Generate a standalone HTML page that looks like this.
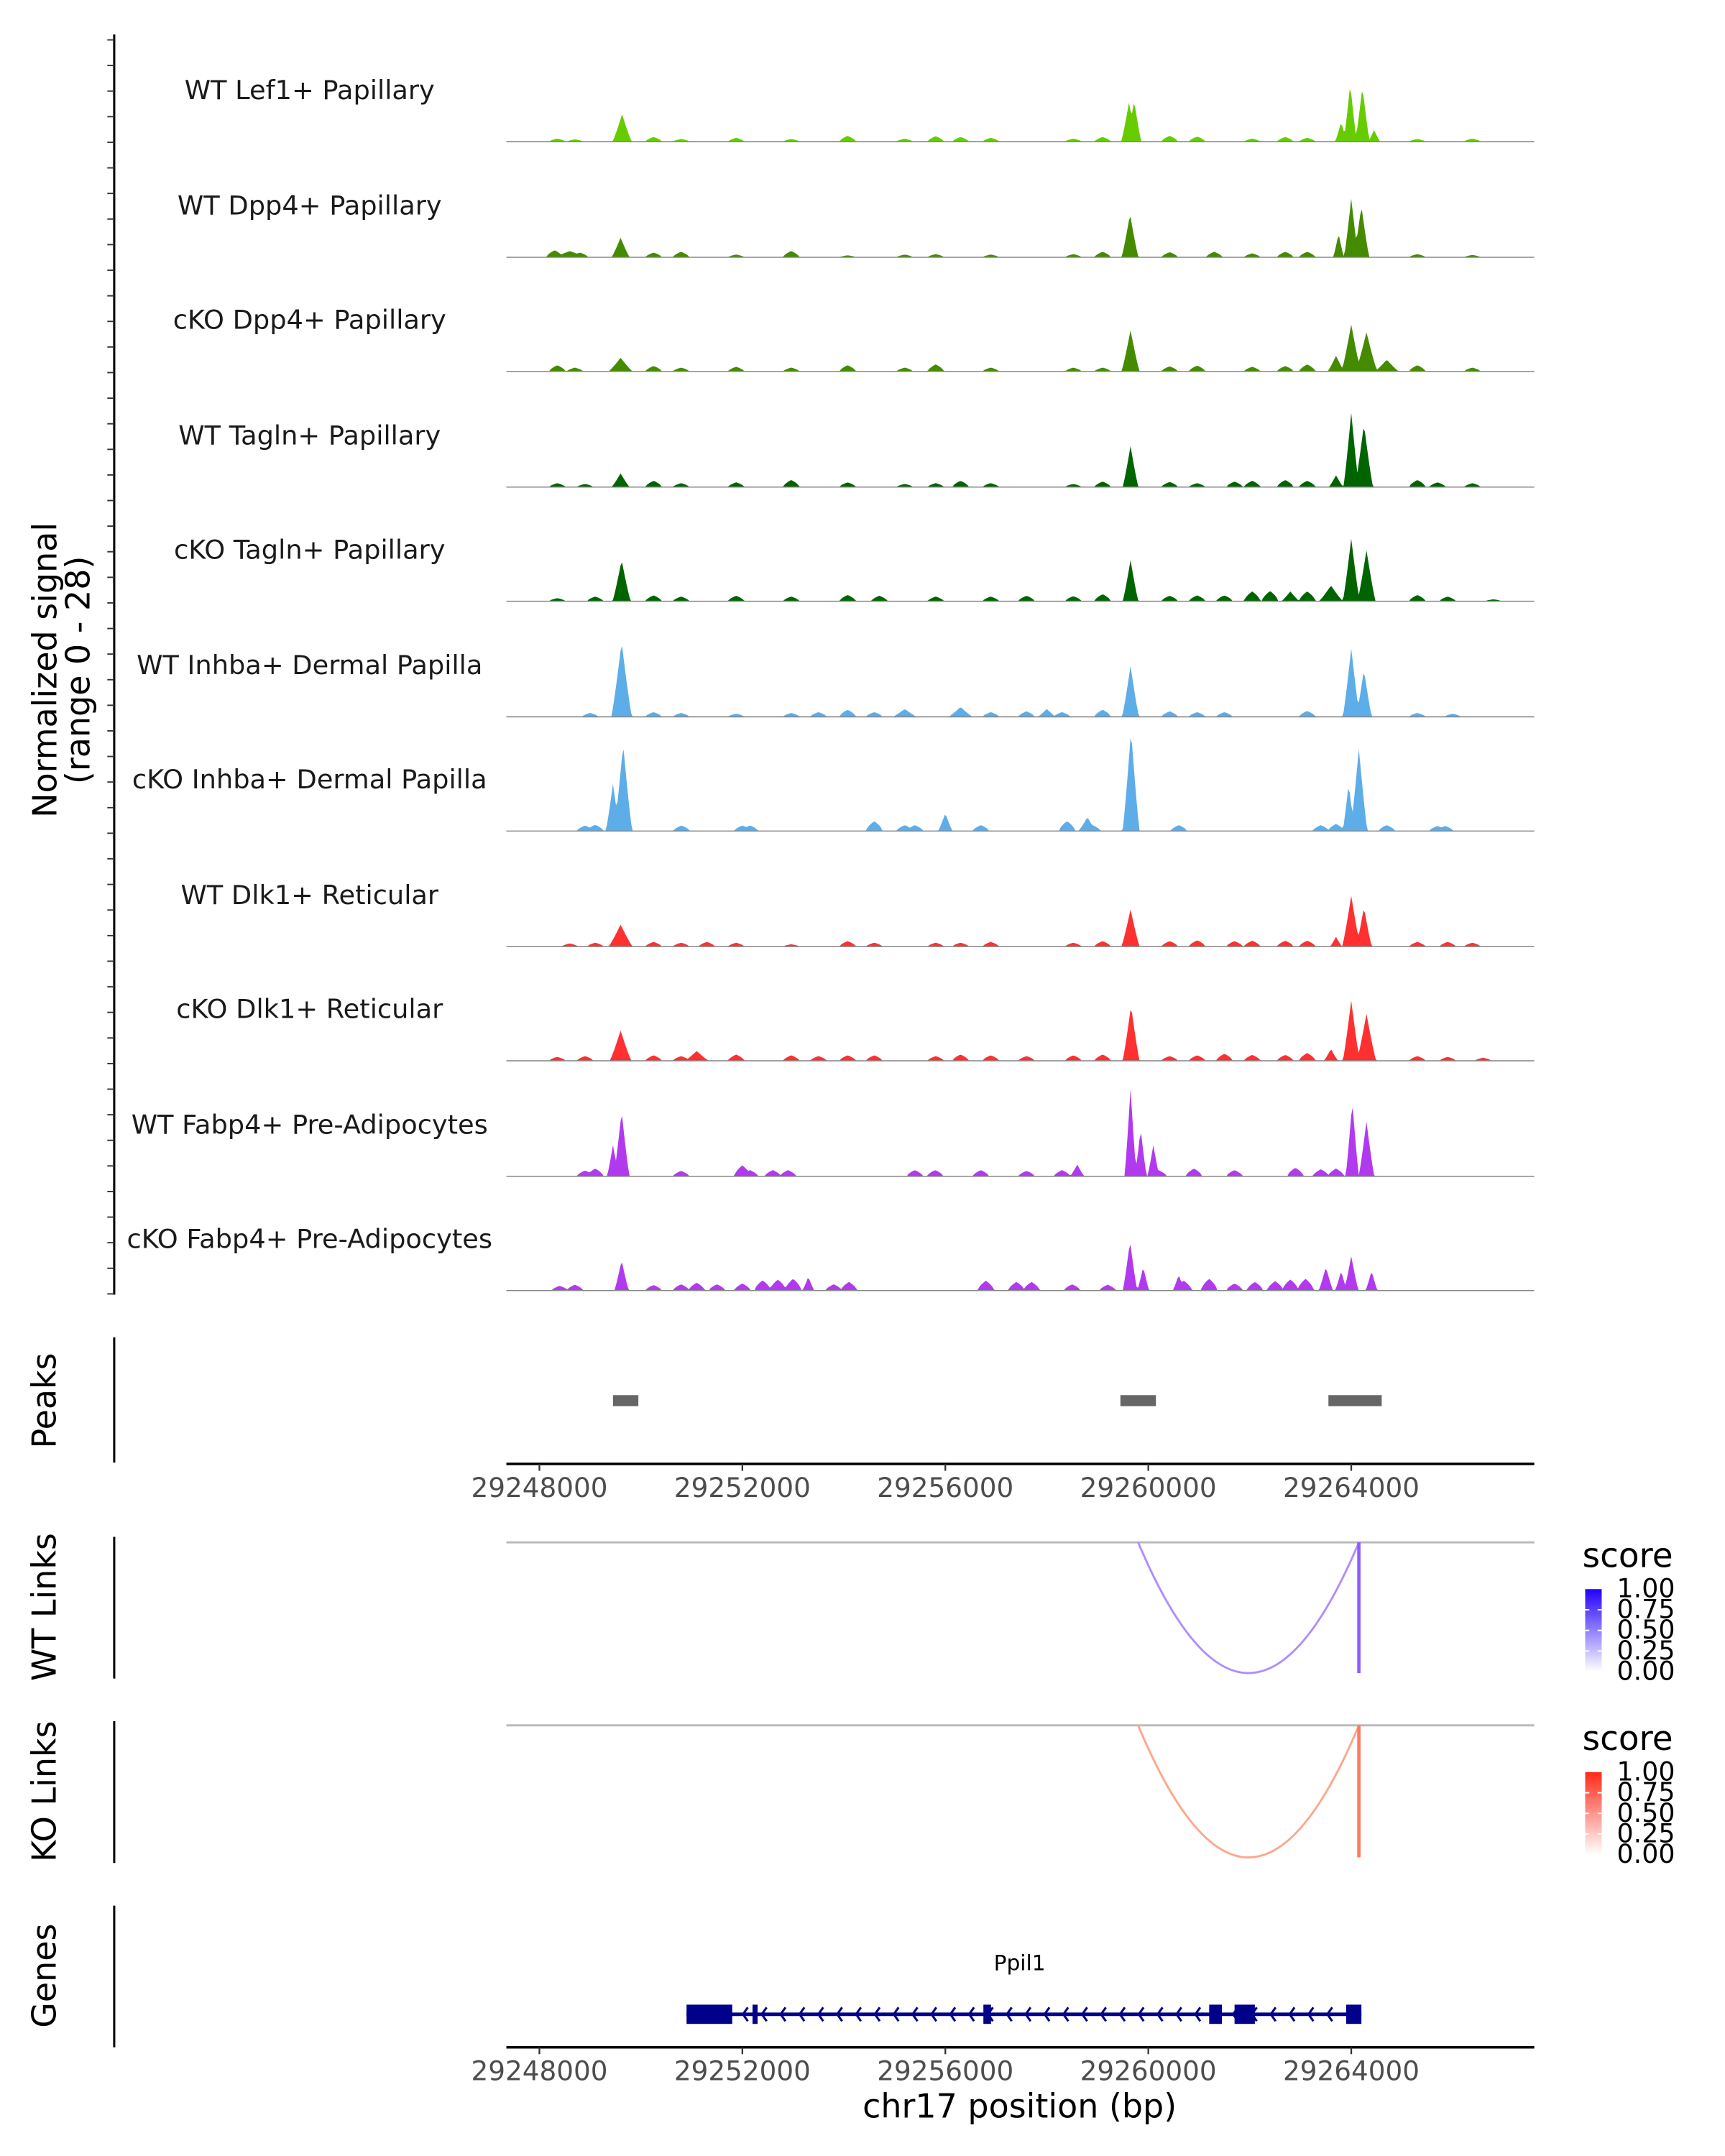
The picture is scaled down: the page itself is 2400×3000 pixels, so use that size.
<!DOCTYPE html>
<html><head><meta charset="utf-8">
<style>
html,body{margin:0;padding:0;background:#fff;}
svg{display:block;font-family:"DejaVu Sans","Liberation Sans",sans-serif;}
</style></head>
<body>
<svg id="chart" width="2400" height="3000" viewBox="0 0 1253.6 1567" preserveAspectRatio="none" xmlns="http://www.w3.org/2000/svg">
<rect width="1260" height="1570" fill="#fff"/>
<g id="signal"></g>
<g id="peaks"></g>
<g id="links"></g>
<g id="genes"></g>
<g id="axes"></g>
</svg>
<script>
const NS="http://www.w3.org/2000/svg";
// ---- data ----
const trackLabels=["WT Lef1+ Papillary","WT Dpp4+ Papillary","cKO Dpp4+ Papillary","WT Tagln+ Papillary","cKO Tagln+ Papillary","WT Inhba+ Dermal Papilla","cKO Inhba+ Dermal Papilla","WT Dlk1+ Reticular","cKO Dlk1+ Reticular","WT Fabp4+ Pre-Adipocytes","cKO Fabp4+ Pre-Adipocytes"];
const trackColors=["#66cc00","#458b00","#458b00","#006400","#006400","#5dade9","#5dade9","#ff3030","#ff3030","#b23aee","#b23aee"];
// main peaks: [bp, height(0-28), halfWidthBp]
const mainPeaks=[
 [[29249630,7,160],[29259620,10,130],[29259720,10.5,120],[29263980,14.7,110],[29264220,14,120],[29263800,5,100],[29264450,3,100]],
 [[29249600,5,150],[29259640,11,140],[29264000,15,120],[29264200,13,130],[29263750,6,90],[29248600,1.6,300]],
 [[29249600,3.5,200],[29259650,10.5,150],[29264000,12,160],[29264300,10,180],[29263700,4,140],[29264700,3,200]],
 [[29249600,3.5,150],[29259650,10.5,130],[29264000,19,130],[29264250,16,150],[29263700,3,120]],
 [[29249620,10.5,150],[29259650,10.5,130],[29264000,16,140],[29264300,13,150],[29263600,4,200],[29262800,2.5,150]],
 [[29249620,19,170],[29259650,13,140],[29264000,17.5,140],[29264250,12,130],[29256300,2.5,200],[29255200,2,200],[29258000,2,150]],
 [[29249650,22,150],[29249450,12,120],[29259660,25.5,140],[29264150,21,140],[29263950,12,100],[29256000,4.5,120],[29258800,3.5,150]],
 [[29249600,5.6,200],[29259650,9.5,150],[29264000,13,150],[29264250,10,130],[29263700,2.5,100]],
 [[29249600,7.7,180],[29259660,14,140],[29264000,15.4,140],[29264300,12,160],[29263600,3,120],[29251100,2.5,200]],
 [[29249620,16.5,130],[29249450,8,100],[29259650,22.4,100],[29259850,12,100],[29260100,8,100],[29264020,19,110],[29264300,14,130],[29258600,3,120]],
 [[29249620,7.7,120],[29259640,12.6,120],[29259900,6,100],[29264000,8.8,120],[29263500,6,120],[29263800,5,100],[29264400,5,100],[29253300,3.5,100],[29260600,4,100]]
];
// small background bumps: [bp, height]
const bumps=[
 [[29248353,0.8],[29248700,0.6],[29250251,1.2],[29250793,0.7],[29251878,1],[29252963,0.7],[29254075,1.5],[29255200,0.8],[29255811,1.4],[29256300,1.2],[29256896,1],[29258523,0.8],[29259100,1.2],[29260421,1.5],[29260963,1.3],[29262048,0.8],[29262700,1.2],[29263133,1],[29265303,0.7],[29266388,0.8]],
 [[29248300,1.8],[29248800,1.2],[29250251,1.2],[29250793,1.4],[29251878,0.7],[29252963,1.6],[29254075,0.5],[29255200,0.7],[29255811,0.8],[29256896,0.7],[29258523,0.8],[29259100,1.4],[29260421,1.3],[29261300,1.4],[29262048,1],[29262700,1.4],[29263133,1.4],[29265303,0.8],[29266388,0.6]],
 [[29248353,1.6],[29248700,1],[29250251,1.4],[29250793,1],[29251878,1.2],[29252963,1],[29254075,1.6],[29255200,1],[29255811,1.8],[29256896,1],[29258523,1],[29259100,1],[29260421,1.3],[29260963,1.5],[29262048,1.2],[29262700,1.4],[29263133,1.8],[29265303,1.6],[29266388,1]],
 [[29248353,1],[29248900,0.8],[29250251,1.6],[29250793,1],[29251878,1.2],[29252963,1.8],[29254075,1.2],[29255200,0.8],[29255811,1],[29256300,1.6],[29256896,1],[29258523,0.8],[29259100,1.4],[29260421,1.3],[29260963,1],[29261700,1.4],[29262048,1.6],[29262700,1.8],[29263133,1.6],[29265303,1.8],[29265700,1.2],[29266388,1]],
 [[29248353,0.8],[29249100,1.2],[29250251,1.5],[29250793,1.2],[29251878,1.4],[29252963,1.2],[29254075,1.6],[29254700,1.4],[29255811,1.2],[29256896,1.2],[29257600,1.4],[29258523,1.3],[29259100,1.8],[29260421,1.4],[29260963,1.5],[29261500,1.5],[29262048,2.5],[29262400,2.6],[29263133,2.5],[29265303,1.6],[29265900,1.2],[29266800,0.5]],
 [[29249000,1],[29250251,1.2],[29250793,1],[29251878,0.8],[29252963,1],[29253500,1.2],[29254075,1.8],[29254600,1.2],[29256896,1.2],[29257600,1.4],[29258300,1.2],[29259100,1.8],[29260421,1.4],[29260963,1.2],[29261500,1.2],[29263133,1.5],[29265303,1],[29266000,0.8]],
 [[29248900,1.4],[29249100,1.6],[29250800,1.4],[29252000,1.4],[29252150,1.4],[29254600,2.5],[29255200,1.5],[29255400,1.5],[29256700,1.5],[29258400,2.5],[29258900,1.5],[29260600,1.5],[29263400,1.5],[29263700,1.8],[29264700,1.5],[29265700,1.3],[29265850,1.3]],
 [[29248600,0.8],[29249100,1],[29250251,1.2],[29250793,1],[29251300,1.2],[29251878,1],[29252963,0.6],[29254075,1.4],[29254600,1],[29255811,1],[29256300,1],[29256896,1.2],[29258523,1],[29259100,1.4],[29260421,1.4],[29260963,1.6],[29261700,1.4],[29262048,1.5],[29262700,1.5],[29263133,1.5],[29265303,1.2],[29265900,1.2],[29266388,1]],
 [[29248353,1],[29248900,1.2],[29250251,1.4],[29250793,1.2],[29251878,1.6],[29252963,1.4],[29253500,1.2],[29254075,1.4],[29254600,1.4],[29255811,1.2],[29256300,1.6],[29256896,1.4],[29257600,1.2],[29258523,1.4],[29259100,1.6],[29260421,1.2],[29260963,1.4],[29261500,1.8],[29262048,1.5],[29262700,1.5],[29263133,2],[29265303,1.2],[29265900,1],[29266600,0.8]],
 [[29248900,1.5],[29249100,2],[29250793,1.4],[29252000,2.8],[29252150,1.6],[29252600,1.6],[29252900,1.6],[29255400,1.6],[29255800,1.6],[29256700,1.6],[29257600,1.4],[29258300,1.6],[29260200,1.6],[29260900,2],[29261700,1.6],[29262900,2.2],[29263400,1.8],[29263700,2]],
 [[29248400,1.2],[29248700,1.5],[29250251,1.4],[29250793,1.6],[29251100,2],[29251500,1.6],[29252000,1.8],[29252400,2.6],[29252700,2.8],[29253000,3],[29253800,1.6],[29254100,2.2],[29256800,2.5],[29257400,2.2],[29257700,2.2],[29258500,1.6],[29259200,1.5],[29260700,2.5],[29261200,3],[29261700,1.8],[29262100,2.2],[29262500,2.4],[29262800,2.8],[29263100,3]]
];
const peakRegions=[[29249450,29249950],[29259450,29260150],[29263550,29264600]];
const xTicks=[29248000,29252000,29256000,29260000,29264000];
const linkStart=29259800, linkEnd=29264150;
const linkScores=[0.35,0.35];
const legendTicks=["1.00","0.75","0.50","0.25","0.00"];
const exons=[[29250900,29251800],[29252200,29252300],[29256750,29256900],[29261200,29261450],[29261700,29262100],[29263900,29264200]];
const geneStart=29250900, geneEnd=29264200;

// ---- scales ----
const X0=368,X1=1115,BP0=29247349,BP1=29267607;
const xs=bp=>X0+(bp-BP0)/(BP1-BP0)*(X1-X0);
const baselines=[103,187,270,354,437,521,604,688,771,855,938];
const ys=v=>v/28*80;

function el(tag,attrs,parent,text){const e=document.createElementNS(NS,tag);for(const k in attrs)e.setAttribute(k,attrs[k]);if(text!==undefined)e.textContent=text;parent.appendChild(e);return e;}

const gS=document.getElementById('signal');
trackLabels.forEach((lab,i)=>{
  const g=el('g',{},gS);
  
  
  const b=baselines[i];
  const step=30,n=Math.ceil((BP1-BP0)/step);
  let d='M'+X0+','+b;
  for(let k=0;k<=n;k++){
    const bp=BP0+k*step;let v=0;
    mainPeaks[i].forEach(p=>{const t=1-Math.abs(bp-p[0])/(p[2]*1.2);if(t>0)v=Math.max(v,p[1]*Math.pow(t,1.15));});
    bumps[i].forEach(p=>{const t=1-Math.abs(bp-p[0])/160;if(t>0)v=Math.max(v,p[1]*Math.pow(t,0.6));});
    d+='L'+xs(bp).toFixed(2)+','+(b-ys(v)).toFixed(2);
  }
  d+='L'+X1+','+b+'Z';
  const a=el('path',{d:d,fill:trackColors[i]},g);
  
  
  const ln=el('line',{x1:X0,x2:X1,y1:b,y2:b,stroke:'#888',"stroke-width":0.8},g);
  
  
  const t=el('text',{x:225,y:b-31,"text-anchor":"middle","font-size":"19.2",fill:'#1a1a1a'},g,lab);
  
  
});

const gA=document.getElementById('axes');
let l=el('line',{x1:83,x2:83,y1:25,y2:941,stroke:'#000',"stroke-width":1.6},gA);

for(let y=29;y<=941;y+=18.6){const tk=el('line',{x1:78,x2:83,y1:y,y2:y,stroke:'#333',"stroke-width":1},gA);
}
let tt=el('text',{transform:'translate(41,487) rotate(-90)',"text-anchor":"middle","font-size":"24"},gA,'Normalized signal');

tt=el('text',{transform:'translate(65,487) rotate(-90)',"text-anchor":"middle","font-size":"24"},gA,'(range 0 - 28)');


[['Peaks',1018,972,1063],['WT Links',1168,1117,1220],['KO Links',1302,1251,1354],['Genes',1436,1385,1488]].forEach(p=>{
  const t=el('text',{transform:`translate(34,${p[1]}) rotate(-90)`,"text-anchor":"middle","font-size":"24","dominant-baseline":"middle"},gA,p[0]);
  
  const a=el('line',{x1:83,x2:83,y1:p[2],y2:p[3],stroke:'#000',"stroke-width":1.6},gA);
  
});

const gP=document.getElementById('peaks');
peakRegions.forEach(r=>{const rc=el('rect',{x:xs(r[0]),y:1014,width:xs(r[1])-xs(r[0]),height:8,fill:'#666'},gP);
});

function xAxis(y,id){
  const g=el('g',{},gA);
  el('line',{x1:X0,x2:X1,y1:y,y2:y,stroke:'#000',"stroke-width":1.8},g);
  xTicks.forEach(v=>{el('line',{x1:xs(v),x2:xs(v),y1:y,y2:y+5,stroke:'#333',"stroke-width":1.2},g);
    const t=el('text',{x:xs(v),y:y+24,"text-anchor":"middle","font-size":"19.5",fill:'#4d4d4d'},g,String(v));
    });
}
xAxis(1064,'peaks-x-axis');xAxis(1488,'genes-x-axis');
tt=el('text',{x:741,y:1539,"text-anchor":"middle","font-size":"24"},gA,'chr17 position (bp)');


const gL=document.getElementById('links');
[[1121,1216,'#b08cff','#8c5cff','#2200ff','wt'],[1254,1350,'#ffa58a','#ff7a5c','#ff2a1a','ko']].forEach(c=>{
  const g=el('g',{},gL);
  el('line',{x1:X0,x2:X1,y1:c[0],y2:c[0],stroke:'#bbb',"stroke-width":1.6},g);
  const x1=xs(linkStart),x2=xs(linkEnd),mid=(x1+x2)/2,ctrl=2*c[1]-c[0];
  const arc=el('path',{d:`M${x1},${c[0]} Q${mid},${ctrl} ${x2},${c[0]}`,fill:'none',stroke:c[2],"stroke-width":1.5},g);
  
  const v=el('line',{x1:x2,x2:x2,y1:c[0],y2:c[1],stroke:c[3],"stroke-width":2.4},g);
  
  const lg=el('g',{},g);
  const ly=c[0]+12;
  el('text',{x:1150,y:ly+6,"font-size":"24.5"},lg,'score');
  const gid='grad'+c[5];
  const defs=el('defs',{},lg);const gr=el('linearGradient',{id:gid,x1:0,y1:1,x2:0,y2:0},defs);
  el('stop',{offset:0,"stop-color":'#fff'},gr);el('stop',{offset:1,"stop-color":c[4]},gr);
  el('rect',{x:1152,y:ly+22,width:12,height:60,fill:`url(#${gid})`},lg);
  legendTicks.forEach((t,k)=>{const yy=ly+22+k*15;
    if(k>0&&k<4){el('line',{x1:1152,x2:1155,y1:yy,y2:yy,stroke:'#fff'},lg);el('line',{x1:1161,x2:1164,y1:yy,y2:yy,stroke:'#fff'},lg);}
    el('text',{x:1175,y:yy+6,"font-size":"19"},lg,t);});
});

const gG=document.getElementById('genes');
const gy=1464,gc='#00008b';
el('line',{x1:xs(geneStart),x2:xs(geneEnd),y1:gy,y2:gy,stroke:gc,"stroke-width":2.5},gG);
for(let x=xs(geneStart)+42;x<xs(geneEnd)-4;x+=13.7){
  const ch=el('path',{d:`M${x+2.5},${gy-5} L${x-1},${gy} L${x+2.5},${gy+5}`,fill:'none',stroke:gc,"stroke-width":1.6},gG);
  
}
exons.forEach(e=>{const r=el('rect',{x:xs(e[0]),y:gy-7,width:Math.max(3,xs(e[1])-xs(e[0])),height:14,fill:gc},gG);
});
tt=el('text',{x:741,y:1432,"text-anchor":"middle","font-size":"15.5"},gG,'Ppil1');

</script>
</body></html>
